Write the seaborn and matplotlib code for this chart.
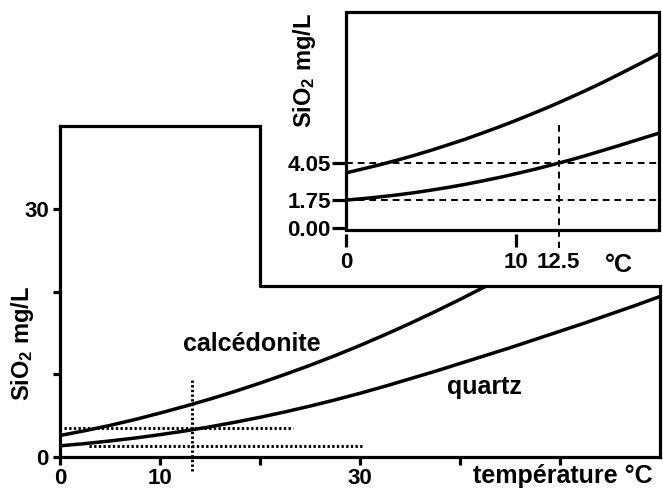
import matplotlib
matplotlib.use("Agg")
import pandas as pd
import matplotlib.pyplot as plt
import seaborn as sns
from matplotlib.patches import Rectangle

# main chart: solubility vs temperature
tempCalc = [0, 2.5, 5, 7.5, 10, 12.5, 15, 17.5, 20, 22.5, 25, 27.5, 30, 32.5, 35,
            37.5, 40, 42.5, 45]
calcMain = [2.6, 3.18, 3.82, 4.53, 5.31, 6.13, 7.0, 7.93, 8.93, 9.98, 11.08, 12.25,
            13.48, 14.78, 16.14, 17.56, 19.04, 20.58, 22.2]
tempQuartz = [0, 2.5, 5, 7.5, 10, 12.5, 15, 17.5, 20, 22.5, 25, 27.5, 30, 32.5, 35,
              37.5, 40, 42.5, 45, 47.5, 50, 52.5, 55, 57.5, 60]
quartzMain = [1.35, 1.62, 1.94, 2.29, 2.7, 3.15, 3.65, 4.2, 4.8, 5.45, 6.15, 6.9, 7.7,
              8.55, 9.45, 10.35, 11.3, 12.25, 13.2, 14.2, 15.2, 16.2, 17.25, 18.3, 19.4]
mainXTicks = [0, 10, 20, 30, 40, 50]
mainXLabels = ["0", "10", "", "30", "", ""]
mainYTicks = [0, 10, 20, 30]
mainYLabels = ["0", "", "", "30"]

# zoomed inset
tempInset = [0, 1, 2, 3, 4, 5, 6, 7, 8, 9, 10, 11, 12, 13, 14, 15, 16, 17, 18, 18.4]
calcInset = [3.45, 3.7, 3.96, 4.24, 4.54, 4.86, 5.2, 5.55, 5.93, 6.32, 6.73, 7.16,
             7.6, 8.07, 8.55, 9.05, 9.58, 10.12, 10.67, 10.9]
quartzInset = [1.75, 1.84, 1.95, 2.07, 2.21, 2.37, 2.54, 2.73, 2.94, 3.16, 3.4, 3.65,
               3.92, 4.2, 4.5, 4.82, 5.14, 5.47, 5.8, 5.93]
insetXTicks = [0, 10, 12.5]
insetXLabels = ["0", "10", "12.5"]
insetYTicks = [0, 1.75, 4.05]
insetYLabels = ["0.00", "1.75", "4.05"]

sns.set_theme(style="ticks")
plt.rcParams["font.family"] = ["Liberation Sans", "DejaVu Sans"]
plt.rcParams["font.weight"] = "bold"
plt.rcParams["text.color"] = "black"
plt.rcParams["xtick.labelcolor"] = "black"
plt.rcParams["ytick.labelcolor"] = "black"
plt.rcParams["mathtext.fontset"] = "custom"
plt.rcParams["mathtext.bf"] = "Liberation Sans:bold"
plt.rcParams["mathtext.rm"] = "Liberation Sans:bold"
plt.rcParams["mathtext.default"] = "bf"

lw = 2.3
fig = plt.figure(figsize=(6.63, 4.95), dpi=100)
ax = fig.add_axes([60 / 663, 38 / 495, 600 / 663, 331 / 495])

dfCalc = pd.DataFrame({"t": tempCalc, "v": calcMain})
dfQuartz = pd.DataFrame({"t": tempQuartz, "v": quartzMain})
sns.lineplot(data=dfCalc, x="t", y="v", ax=ax, color="black", lw=2.5)
sns.lineplot(data=dfQuartz, x="t", y="v", ax=ax, color="black", lw=2.5)

dots = (0, (0.8, 0.8))
ax.plot([0.4, 23.3], [3.45, 3.45], color="black", lw=2.1, ls=dots)
ax.plot([2.9, 30.4], [1.3, 1.3], color="black", lw=2.1, ls=dots)
ax.plot([13.2, 13.2], [9.3, -1.8], color="black", lw=2.1, ls=dots, clip_on=False)

ax.set_xlim(0, 60)
ax.set_ylim(0, 40)
ax.set_xticks(mainXTicks)
ax.set_xticklabels(mainXLabels)
ax.set_yticks(mainYTicks)
ax.set_yticklabels(mainYLabels)
ax.set_xlabel("")
ax.set_ylabel("")
ax.tick_params(axis="x", length=6, width=lw, labelsize=16, pad=2, color="black")
ax.tick_params(axis="y", length=5, width=lw, labelsize=16, pad=3, color="black")
for sp in ax.spines.values():
    sp.set_visible(True)
    sp.set_linewidth(lw)
    sp.set_color("black")

ax.text(19.2, 13.7, "calcédonite", fontsize=18, fontweight="bold", ha="center", va="center")
ax.text(42.4, 8.5, "quartz", fontsize=18, fontweight="bold", ha="center", va="center")

# white cut-out behind the inset
ax.add_patch(Rectangle((20, 20.7), 50, 30, facecolor="white", edgecolor="none",
                       zorder=3, clip_on=False))
ax.plot([20, 20, 60], [40, 20.7, 20.7], color="black", lw=lw, zorder=4,
        clip_on=False, solid_capstyle="projecting")

fig.text(22 / 663, 1 - 343 / 495, "SiO$_2$ mg/L", rotation=90, ha="center", va="center",
         fontsize=17, fontweight="bold")
fig.text(563 / 663, 1 - 476 / 495, "température °C", ha="center", va="center",
         fontsize=18, fontweight="bold")

# inset
ax2 = fig.add_axes([346 / 663, 265 / 495, 313 / 663, 218 / 495])
dfCalcIn = pd.DataFrame({"t": tempInset, "v": calcInset})
dfQuartzIn = pd.DataFrame({"t": tempInset, "v": quartzInset})
sns.lineplot(data=dfCalcIn, x="t", y="v", ax=ax2, color="black", lw=2.5)
sns.lineplot(data=dfQuartzIn, x="t", y="v", ax=ax2, color="black", lw=2.5)

dash = (0, (3.5, 2.5))
ax2.plot([0, 18.4], [4.05, 4.05], color="black", lw=1.4, ls=dash)
ax2.plot([0, 18.4], [1.75, 1.75], color="black", lw=1.4, ls=dash)
ax2.plot([12.5, 12.5], [6.45, -1.25], color="black", lw=1.4, ls=dash, clip_on=False)

ax2.set_xlim(0, 18.4)
ax2.set_ylim(-0.12, 13.5)
ax2.set_xticks(insetXTicks)
ax2.set_xticklabels(insetXLabels)
ax2.set_yticks(insetYTicks)
ax2.set_yticklabels(insetYLabels)
ax2.set_xlabel("")
ax2.set_ylabel("")
ax2.spines["bottom"].set_position(("outward", 3))
for sp in ax2.spines.values():
    sp.set_visible(False)
ax2.patch.set_facecolor("white")
ax2.patch.set_edgecolor("black")
ax2.patch.set_linewidth(lw)
ax2.tick_params(axis="x", length=9, width=lw, labelsize=16, pad=4, color="black")
ax2.tick_params(axis="y", length=10, width=lw, labelsize=16, pad=1, color="black")
ax2.xaxis.get_major_ticks()[2].tick1line.set_visible(False)

fig.text(305 / 663, 1 - 70 / 495, "SiO$_2$ mg/L", rotation=90, ha="center", va="center",
         fontsize=17, fontweight="bold")
fig.text(619 / 663, 1 - 265 / 495, "°C", ha="center", va="center",
         fontsize=18, fontweight="bold")

fig.savefig("out.png", dpi=100)
